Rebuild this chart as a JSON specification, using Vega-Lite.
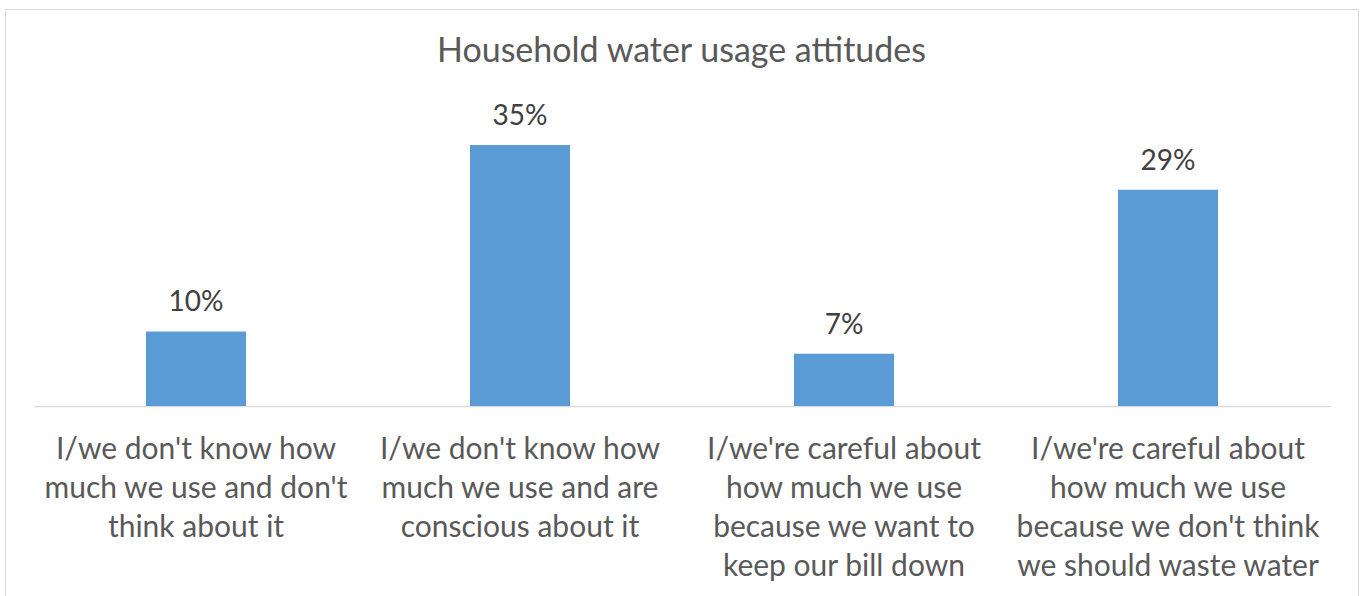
{
  "$schema": "https://vega.github.io/schema/vega-lite/v6.json",
  "autosize": {"type": "none"},
  "width": 1353,
  "height": 587,
  "padding": {"left": 5, "top": 9, "right": 2, "bottom": 0},
  "background": "white",
  "config": {"view": {"stroke": "#d9d9d9", "strokeWidth": 1}, "font": "Lato"},
  "title": {
    "text": "Household water usage attitudes",
    "fontSize": 34,
    "font": "Lato",
    "fontWeight": "normal",
    "color": "#595959",
    "anchor": "middle",
    "frame": "group",
    "baseline": "alphabetic",
    "offset": -87
  },
  "data": {
    "values": [
      {"attitude": "I/we don't know how|much we use and don't|think about it", "share": 0.10},
      {"attitude": "I/we don't know how|much we use and are|conscious about it", "share": 0.35},
      {"attitude": "I/we're careful about|how much we use|because we want to|keep our bill down", "share": 0.07},
      {"attitude": "I/we're careful about|how much we use|because we don't think|we should waste water", "share": 0.29}
    ]
  },
  "encoding": {
    "x": {
      "field": "attitude",
      "type": "nominal",
      "sort": null,
      "scale": {"range": [29, 1325], "paddingInner": 0.6914, "paddingOuter": 0.3457},
      "axis": {
        "orient": "bottom",
        "offset": -190,
        "title": null,
        "ticks": false,
        "domainColor": "#d9d9d9",
        "domainWidth": 1.5,
        "labelAngle": 0,
        "labelFont": "Lato",
        "labelFontSize": 30,
        "labelColor": "#595959",
        "labelLineHeight": 39,
        "labelPadding": 28,
        "labelExpr": "split(datum.label, '|')",
        "labelLimit": 0,
        "labelOverlap": false,
        "labelBound": false
      }
    },
    "y": {
      "field": "share",
      "type": "quantitative",
      "scale": {"domain": [0, 0.5324], "range": [397, 0], "nice": false},
      "axis": null
    }
  },
  "layer": [
    {"mark": {"type": "bar", "color": "#5B9BD5"}},
    {
      "mark": {"type": "text", "dy": -20, "baseline": "alphabetic", "fontSize": 28, "font": "Lato", "color": "#404040"},
      "encoding": {"text": {"field": "share", "type": "quantitative", "format": ".0%"}}
    }
  ]
}
